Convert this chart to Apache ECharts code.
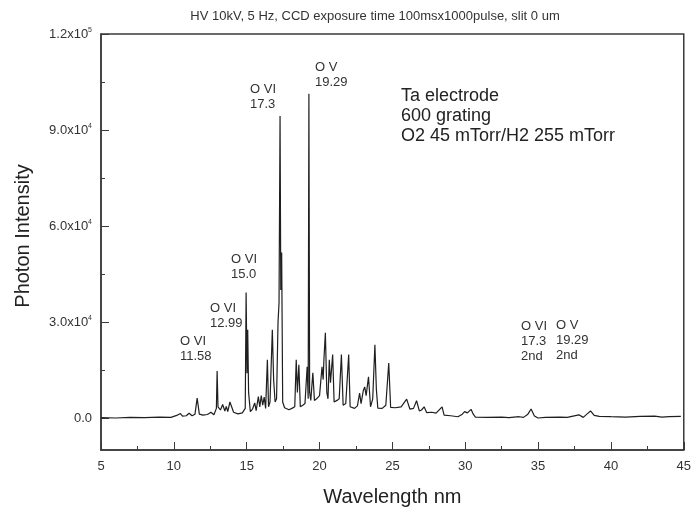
<!DOCTYPE html>
<html>
<head>
<meta charset="utf-8">
<script src="https://cdn.jsdelivr.net/npm/echarts@6/dist/echarts.min.js"></script>
<style>
html,body{margin:0;padding:0;background:#fff;}
#chart{width:694px;height:514px;}
</style>
</head>
<body>
<div id="chart"></div>
<script>
// Spectrum (wavelength in nm, photon intensity)
const wavelength = [
  5.0, 6.0, 7.0, 8.0, 9.0, 9.8, 10.2, 10.45, 10.6, 10.85, 11.05, 11.25, 11.45, 11.6, 11.75,
  12.0, 12.3, 12.55, 12.75, 12.92, 12.97, 13.03, 13.2, 13.35, 13.5, 13.6, 13.7, 13.85, 13.95,
  14.1, 14.4, 14.7, 14.9, 14.96, 15.02, 15.07, 15.13, 15.25, 15.4, 15.55, 15.65, 15.8, 15.9,
  16.0, 16.1, 16.2, 16.3, 16.42, 16.5, 16.6, 16.76, 16.85, 16.95, 17.05, 17.15, 17.22, 17.29,
  17.34, 17.4, 17.47, 17.6, 17.9, 18.1, 18.3, 18.4, 18.48, 18.58, 18.68, 18.85, 19.0, 19.15,
  19.22, 19.27, 19.32, 19.4, 19.54, 19.65, 19.8, 20.0, 20.17, 20.25, 20.3, 20.4, 20.5, 20.58,
  20.67, 20.75, 20.9, 21.0, 21.2, 21.35, 21.5, 21.62, 21.8, 22.0, 22.1, 22.4, 22.6, 22.75,
  22.85, 23.0, 23.1, 23.2, 23.36, 23.5, 23.65, 23.8, 23.9, 24.0, 24.3, 24.55, 24.75, 24.88,
  25.2, 25.6, 25.98, 26.2, 26.45, 26.66, 26.85, 27.0, 27.18, 27.35, 27.7, 28.0, 28.41, 28.55,
  29.0, 29.5, 29.8, 29.96, 30.15, 30.4, 30.55, 30.7, 31.5, 32.5, 33.0, 33.7, 34.0, 34.3,
  34.52, 34.75, 35.0, 35.5, 36.5, 37.0, 37.4, 37.8, 38.1, 38.35, 38.6, 38.85, 39.2, 40.0,
  41.0, 42.0, 43.0, 43.5, 44.0, 44.8
];
const intensity = [
  100, 0, 200, 100, 300, 200, 800, 1400, 600, 700, 1500, 700, 1200, 6200, 1200,
  900, 1100, 1800, 1000, 3000, 14700, 3500, 2500, 4200, 2200, 3600, 2000, 5000, 4800,
  1800, 1300, 1600, 3000, 39200, 14000, 27600, 8000, 2000, 2800, 4700, 2300, 6700, 3500,
  7000, 4000, 6500, 3000, 18200, 3500, 5000, 27600, 11900, 5000, 6000, 29800, 36000, 94400,
  40000, 51700, 5000, 3200, 2600, 3000, 3500, 18200, 8000, 16600, 3500, 4000, 4500, 16000,
  6000, 101300, 8000, 5500, 14100, 5500, 6000, 7000, 16000, 12000, 18200, 26600, 8000, 6000,
  18200, 11000, 19800, 5000, 5500, 6000, 19800, 4000, 4500, 19800, 3500, 3000, 3800, 7800,
  4500, 8500, 9700, 7000, 12900, 3500, 6000, 22900, 9000, 3100, 3000, 4000, 17200, 3300,
  3200, 3500, 5900, 2800, 3000, 5400, 2200, 2500, 3500, 1700, 1800, 1500, 3500, 900,
  700, 400, 1200, 2000, 1600, 2700, 1200, 300, 200, 300, 100, 400, 200, 1200,
  2800, 600, 0, 200, 300, 200, 600, 1000, 200, 1200, 2200, 800, 500, 400,
  300, 500, 600, 300, 400, 500
];
const yMajorTicks = [0, 30000, 60000, 90000, 120000];
const yMinorTicks = [15000, 45000, 75000, 105000];
const yTickLabels = ['0.0', '3.0x10|4', '6.0x10|4', '9.0x10|4', '1.2x10|5'];
const annotations = [
  'O VI\n11.58', 'O VI\n12.99', 'O VI\n15.0', 'O VI\n17.3', 'O V\n19.29',
  'O VI\n17.3\n2nd', 'O V\n19.29\n2nd'
];
const infoText = 'Ta electrode\n600 grating\nO2 45 mTorr/H2 255 mTorr';
const titleText = 'HV 10kV, 5 Hz, CCD exposure time 100msx1000pulse, slit 0 um';
const xName = 'Wavelength nm';
const yName = 'Photon Intensity';

const FONT = 'Liberation Sans, Arial, sans-serif';
const AX = '#3a3a3a';

// layout of annotation texts (pixel top-left)
const annPos = [[180, 334], [210, 301], [231, 252], [250, 82], [315, 60], [521, 319], [556, 318]];

const chart = echarts.init(document.getElementById('chart'), null, {renderer: 'canvas'});

function yFmt(v) {
  const i = yMajorTicks.indexOf(v);
  if (i < 0) return '';
  const s = yTickLabels[i];
  if (s.indexOf('|') < 0) return '{a|' + s + '}';
  const p = s.split('|');
  return '{a|' + p[0] + '}{b|' + p[1] + '}';
}

const graphics = annotations.map((t, i) => ({
  type: 'text', left: annPos[i][0], top: annPos[i][1], silent: true,
  style: {text: t, font: '13px ' + FONT, lineHeight: 15, fill: '#333'}
}));
graphics.push({
  type: 'text', left: 401, top: 86, silent: true,
  style: {text: infoText, font: '18px ' + FONT, lineHeight: 20, fill: '#222'}
});
graphics.push({
  type: 'text', x: 23, y: 236, rotation: Math.PI / 2, silent: true,
  style: {text: yName, font: '20px ' + FONT, fill: '#222', align: 'center', verticalAlign: 'middle'}
});

chart.setOption({
  animation: false,
  backgroundColor: '#fff',
  title: {
    text: titleText, left: 370, top: 5, textAlign: 'center',
    textStyle: {fontFamily: FONT, fontSize: 13, fontWeight: 'normal', color: '#333'}
  },
  grid: {left: 101, right: 7, top: 34, bottom: 64, show: true, borderColor: AX, borderWidth: 1.5, backgroundColor: 'transparent'},
  xAxis: {
    type: 'value', min: 5, max: 45, interval: 5,
    name: xName, nameLocation: 'middle', nameGap: 37,
    nameTextStyle: {fontFamily: FONT, fontSize: 20, color: '#222'},
    axisLine: {onZero: false, lineStyle: {color: AX, width: 1.5}},
    axisTick: {inside: true, length: 8, lineStyle: {color: AX, width: 1}},
    minorTick: {show: true, splitNumber: 2, length: 4, lineStyle: {color: AX, width: 1}},
    axisLabel: {margin: 10, fontFamily: FONT, fontSize: 13, color: '#333'},
    splitLine: {show: false}
  },
  yAxis: [{
    type: 'value', min: -10000, max: 120000, position: 'left',
    axisLine: {show: true, onZero: false, lineStyle: {color: AX, width: 1.5}},
    axisTick: {show: true, inside: true, length: 8, customValues: yMajorTicks, lineStyle: {color: AX, width: 1}},
    axisLabel: {
      customValues: yMajorTicks, margin: 9, formatter: yFmt,
      rich: {
        a: {fontFamily: FONT, fontSize: 13, color: '#333', lineHeight: 15},
        b: {fontFamily: FONT, fontSize: 7, color: '#333', verticalAlign: 'top', lineHeight: 15}
      }
    },
    splitLine: {show: false}
  }, {
    type: 'value', min: -10000, max: 120000, position: 'left',
    axisLine: {show: false, onZero: false},
    axisTick: {show: true, inside: true, length: 4, customValues: yMinorTicks, lineStyle: {color: AX, width: 1}},
    axisLabel: {show: false},
    splitLine: {show: false}
  }],
  series: [{
    type: 'line', yAxisIndex: 0, symbol: 'none', silent: true,
    lineStyle: {color: '#1f1f1f', width: 1.2},
    data: wavelength.map((w, i) => [w, intensity[i]])
  }],
  graphic: graphics
});
</script>
</body>
</html>
